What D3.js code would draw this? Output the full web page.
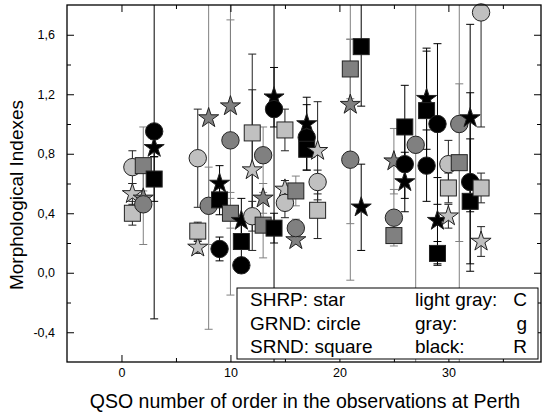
<!DOCTYPE html>
<html>
<head>
<meta charset="utf-8">
<script src="https://cdn.jsdelivr.net/npm/d3@7"></script>
<style>
  body { margin: 0; background: #fff; }
  text { font-family: Arial, "Liberation Sans", sans-serif; fill: #000; }
</style>
</head>
<body>
<script>
// QSO order number and colour code of each object (C light gray, g gray, R black)
const qso  = [1, 2, 3, 7, 8, 9, 10, 11, 12, 13, 14, 15, 16, 17, 18, 21, 22, 25, 26, 27, 28, 29, 30, 31, 32, 33];
const tone = ["C","g","R","C","g","R","g","R","C","g","R","C","g","R","C","g","R","g","R","g","R","R","C","g","R","C"];

// SHRP (star)
const shrp    = [0.53, 0.50, 0.84, 0.17, 1.04, 0.60, 1.12, 0.35, 0.69, 0.50, 1.18, 0.56, 0.22, 1.00, 0.82, 1.13, 0.44, 0.75, 0.61, null, 1.17, 0.35, 0.38, null, 1.04, 0.21];
const shrpErr = [0.07, 0.05, 0.06, 0.04, 1.42, 0.12, 0.58, 0.15, 0.54, 0.10, 0.20, 0.06, 0.03, 0.18, 0.33, 0.80, 0.29, 0.22, 0.20, null, 0.34, 0.29, 0.08, null, 0.63, 0.10];
// GRND (circle)
const grnd    = [0.71, 0.46, 0.95, 0.77, 0.45, 0.16, 0.89, 0.05, 0.38, 0.79, 1.10, 0.47, 0.30, 0.91, 0.61, 0.76, null, 0.37, 0.73, 0.86, 0.72, 1.00, 0.73, 1.00, 0.61, 1.75];
const grndErr = [0.11, 0.27, 1.26, 0.33, 0.26, 0.08, 1.04, 0.05, 0.10, 0.19, 1.75, 0.10, 0.06, 0.22, 0.08, 0.81, null, 0.19, 0.23, 1.60, 0.24, 0.54, 0.16, 1.65, 0.60, 0.77];
// SRND (square)
const srnd    = [0.40, 0.72, 0.63, 0.28, null, 0.49, 0.40, 0.21, 0.94, 0.32, 0.30, 0.96, 0.55, 0.83, 0.42, 1.37, 1.52, 0.25, 0.98, null, 1.09, 0.13, 0.57, 0.74, 0.48, 0.57];
const srndErr = [0.08, 0.26, 0.15, 0.06, null, 0.10, 0.10, 0.12, 0.53, 0.22, 0.10, 0.14, 0.10, 0.14, 0.19, 0.20, 0.40, 0.03, 0.28, null, 0.40, 0.08, 0.10, 0.53, 0.42, 0.10];

const xTicks = [0, 10, 20, 30];
const xMinor = [5, 15, 25, 35];
const yTicks = [-0.4, 0, 0.4, 0.8, 1.2, 1.6];
const yMinor = [-0.2, 0.2, 0.6, 1.0, 1.4];
const legendRows = [
  ["SHRP: star", "light gray:", "C"],
  ["GRND: circle", "gray:", "g"],
  ["SRND: square", "black:", "R"]
];

const width = 542, height = 416;
const pLeft = 67, pRight = 541, pTop = 5, pBottom = 362;

const fill = { C: "#c0c0c0", g: "#808080", R: "#000000" };
const barColor = { C: "#222222", g: "#808080", R: "#000000" };

const x = d3.scaleLinear().domain([-5, 38.5]).range([pLeft, pRight]);
const y = d3.scaleLinear().domain([-0.6, 1.8]).range([pBottom, pTop]);

const svg = d3.select("body").append("svg")
  .attr("width", width)
  .attr("height", height);

svg.append("defs").append("clipPath").attr("id", "plot")
  .append("rect")
  .attr("x", pLeft).attr("y", pTop)
  .attr("width", pRight - pLeft).attr("height", pBottom - pTop);

// flatten the three series into one list, drawn in order of QSO
const points = [];
qso.forEach((n, i) => {
  [["star", shrp, shrpErr], ["circle", grnd, grndErr], ["square", srnd, srndErr]].forEach(([shape, vals, errs]) => {
    if (vals[i] == null) return;
    points.push({ n: n, v: vals[i], e: errs[i], tone: tone[i], shape: shape });
  });
});

// error bars
const bars = svg.append("g").attr("clip-path", "url(#plot)")
  .selectAll("g").data(points).enter().append("g")
  .attr("stroke", d => barColor[d.tone])
  .attr("stroke-width", 1);

bars.append("line")
  .attr("x1", d => x(d.n)).attr("x2", d => x(d.n))
  .attr("y1", d => y(d.v - d.e)).attr("y2", d => y(d.v + d.e));
bars.append("line")
  .attr("x1", d => x(d.n) - 4).attr("x2", d => x(d.n) + 4)
  .attr("y1", d => y(d.v + d.e)).attr("y2", d => y(d.v + d.e));
bars.append("line")
  .attr("x1", d => x(d.n) - 4).attr("x2", d => x(d.n) + 4)
  .attr("y1", d => y(d.v - d.e)).attr("y2", d => y(d.v - d.e));

// markers
const star = d3.symbol().type(d3.symbolStar).size(125);
const marks = svg.append("g")
  .selectAll("g").data(points).enter().append("g")
  .attr("transform", d => `translate(${x(d.n)},${y(d.v)})`);

marks.each(function(d) {
  const g = d3.select(this);
  let m;
  if (d.shape == "star") m = g.append("path").attr("d", star());
  else if (d.shape == "circle") m = g.append("circle").attr("r", 8.7);
  else m = g.append("rect").attr("x", -8).attr("y", -8).attr("width", 16).attr("height", 16);
  m.attr("fill", fill[d.tone]).attr("stroke", "#222").attr("stroke-width", 1);
});

// axes, ticks pointing inward
const fmt = d => d.toFixed(1).replace(".", ",");

function axis(gen, tr, vals, size, labels, pad) {
  const g = svg.append("g").attr("transform", tr)
    .call(gen.tickValues(vals).tickSize(size).tickPadding(pad || 3).tickFormat(labels || (() => "")));
  g.select(".domain").remove();
  g.selectAll("line").attr("stroke", "#000");
  g.selectAll("text").attr("font-size", "12.5px").attr("font-family", "Arial, 'Liberation Sans', sans-serif");
  return g;
}

axis(d3.axisBottom(x), `translate(0,${pBottom})`, xTicks, -7, d => d, 6);
axis(d3.axisBottom(x), `translate(0,${pBottom})`, xMinor, -4);
axis(d3.axisTop(x), `translate(0,${pTop})`, xTicks, -7);
axis(d3.axisTop(x), `translate(0,${pTop})`, xMinor, -4);
axis(d3.axisLeft(y), `translate(${pLeft},0)`, yTicks, -7, fmt, 12);
axis(d3.axisLeft(y), `translate(${pLeft},0)`, yMinor, -4);
axis(d3.axisRight(y), `translate(${pRight},0)`, yTicks, -7);
axis(d3.axisRight(y), `translate(${pRight},0)`, yMinor, -4);

svg.append("rect")
  .attr("x", pLeft).attr("y", pTop)
  .attr("width", pRight - pLeft).attr("height", pBottom - pTop)
  .attr("fill", "none").attr("stroke", "#000").attr("stroke-width", 1.3);

// titles
svg.append("text")
  .attr("x", 305).attr("y", 408)
  .attr("text-anchor", "middle")
  .attr("font-size", "19.5px")
  .text("QSO number of order in the observations at Perth");

svg.append("text")
  .attr("transform", "translate(23,195) rotate(-90)")
  .attr("text-anchor", "middle")
  .attr("font-size", "19px")
  .text("Morphological Indexes");

// legend box
const legend = svg.append("g");
legend.append("rect")
  .attr("x", 237).attr("y", 288)
  .attr("width", 301).attr("height", 71)
  .attr("fill", "#fff").attr("stroke", "#000").attr("stroke-width", 1);

legendRows.forEach((row, i) => {
  const yy = 306 + i * 23.5;
  legend.append("text").attr("x", 250).attr("y", yy).attr("font-size", "19px").text(row[0]);
  legend.append("text").attr("x", 415).attr("y", yy).attr("font-size", "19px").text(row[1]);
  legend.append("text").attr("x", 527).attr("y", yy).attr("text-anchor", "end").attr("font-size", "19px").text(row[2]);
});
</script>
</body>
</html>
